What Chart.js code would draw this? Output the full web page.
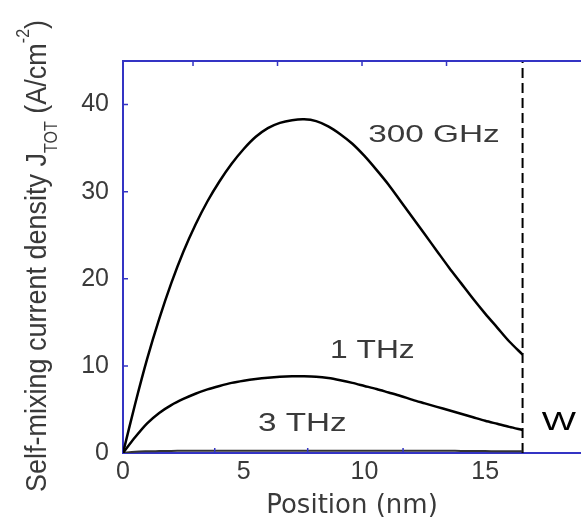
<!DOCTYPE html>
<html>
<head>
<meta charset="utf-8">
<script src="https://cdn.jsdelivr.net/npm/chart.js@4.4.0/dist/chart.umd.min.js"></script>
<style>
html,body{margin:0;padding:0;background:#fff;overflow:hidden;}
#wrap{width:581px;height:525px;}
</style>
</head>
<body>
<div id="wrap"><canvas id="c" width="581" height="525"></canvas></div>
<script>
// ---- data ----
const positions = [0,0.5,1,1.5,2,2.5,3,3.5,4,4.5,5,5.5,6,6.5,7,7.5,8,8.5,9,9.5,10,10.5,11,11.5,12,12.5,13,13.5,14,14.5,15,15.5,16,16.55];
const j300GHz = [0,5.6,10.8,15.4,19.5,23.1,26.2,28.9,31.2,33.2,34.9,36.3,37.3,37.9,38.2,38.3,38.1,37.5,36.6,35.5,34.1,32.5,30.8,28.9,27.0,25.1,23.2,21.3,19.5,17.7,16.0,14.4,12.8,11.3];
const j1THz = [0,1.8,3.4,4.6,5.5,6.2,6.8,7.3,7.7,8.05,8.3,8.5,8.65,8.75,8.8,8.8,8.75,8.6,8.35,8.05,7.7,7.35,6.95,6.55,6.1,5.7,5.3,4.9,4.5,4.1,3.7,3.35,3.0,2.65];
const j3THz = [0,0.15,0.2,0.22,0.24,0.25,0.25,0.25,0.25,0.25,0.25,0.25,0.25,0.25,0.25,0.25,0.25,0.25,0.25,0.25,0.25,0.25,0.25,0.25,0.25,0.25,0.25,0.25,0.24,0.23,0.22,0.21,0.2,0.2];
const wallPosition = 16.55;
const xTickLabels = [0,5,10,15];
const yTickLabels = [0,10,20,30,40];
const xRange = [0, 18.97];
const yRange = [0, 45];
const seriesLabels = ['300 GHz','1 THz','3 THz'];
const labelPositions = [[12.88,36.7],[10.33,11.95],[7.43,3.56]];
const wallLabel = 'W';
const wallLabelPosition = [18.05,3.68];
const topMinorTicks = [2.9,6.4,9.9,13.4];
const bottomMinorTicks = [3.8,7.65,11.6];
const leftMinorTicks = [10,20,30,40];

const BLUE = '#3434c4';
const TEXT = '#3a3a3a';

function pts(ys){ return positions.map((x,i)=>({x:x,y:ys[i]})); }

const framePlugin = {
  id:'frame',
  afterDatasetsDraw(chart){
    const ctx = chart.ctx, a = chart.chartArea;
    const xs = chart.scales.x, ys = chart.scales.y;
    ctx.save();
    ctx.strokeStyle = BLUE; ctx.lineWidth = 2;
    ctx.beginPath(); ctx.moveTo(a.left, a.top); ctx.lineTo(a.right, a.top); ctx.stroke();
    ctx.lineWidth = 1.5;
    ctx.beginPath();
    leftMinorTicks.forEach(v=>{ const p = ys.getPixelForValue(v); ctx.moveTo(a.left, p); ctx.lineTo(a.left+5, p); });
    topMinorTicks.forEach(v=>{ const p = xs.getPixelForValue(v); ctx.moveTo(p, a.top); ctx.lineTo(p, a.top+5); });
    bottomMinorTicks.forEach(v=>{ const p = xs.getPixelForValue(v); ctx.moveTo(p, a.bottom); ctx.lineTo(p, a.bottom-5); });
    ctx.stroke();

    // curve labels
    const scalesX = [1.39,1.27,1.33];
    seriesLabels.forEach((t,i)=>{
      const size = i===0 ? 24 : 25;
      ctx.font = size + 'px "Liberation Sans", Arial, sans-serif';
      ctx.fillStyle = TEXT; ctx.textAlign = 'center'; ctx.textBaseline = 'alphabetic';
      const px = xs.getPixelForValue(labelPositions[i][0]);
      const py = ys.getPixelForValue(labelPositions[i][1]) + 0.358*size;
      ctx.save(); ctx.translate(px, py); ctx.scale(scalesX[i], 1); ctx.fillText(t, 0, 0); ctx.restore();
    });
    ctx.font = '25px "Liberation Sans", Arial, sans-serif';
    ctx.fillStyle = '#000';
    const wx = xs.getPixelForValue(wallLabelPosition[0]);
    const wy = ys.getPixelForValue(wallLabelPosition[1]) + 0.358*25;
    ctx.save(); ctx.translate(wx, wy); ctx.scale(1.45, 1); ctx.fillText(wallLabel, 0, 0); ctx.restore();

    // y-axis title with subscript / superscript
    const parts = [
      {t:'Self-mixing current density J', s:27, off:0},
      {t:'TOT', s:16, off:10},
      {t:' (A/cm', s:27, off:0},
      {t:'-2', s:16, off:-15},
      {t:')', s:27, off:0}
    ];
    let total = 0;
    parts.forEach(p=>{ ctx.font = p.s + 'px "Liberation Sans", Arial, sans-serif'; p.w = ctx.measureText(p.t).width; total += p.w; });
    ctx.save();
    ctx.translate(46, 256 + total/2);
    ctx.rotate(-Math.PI/2);
    ctx.scale(1, 1.12);
    ctx.fillStyle = TEXT; ctx.textAlign = 'left'; ctx.textBaseline = 'alphabetic';
    let cx = 0;
    parts.forEach(p=>{ ctx.font = p.s + 'px "Liberation Sans", Arial, sans-serif'; ctx.fillText(p.t, cx, p.off); cx += p.w; });
    ctx.restore();
    ctx.restore();
  }
};

new Chart(document.getElementById('c'), {
  type:'line',
  data:{
    datasets:[
      {label:seriesLabels[0], data:pts(j300GHz), borderColor:'#000', borderWidth:2.5, pointRadius:0, tension:0.3, fill:false},
      {label:seriesLabels[1], data:pts(j1THz), borderColor:'#000', borderWidth:2.5, pointRadius:0, tension:0.3, fill:false},
      {label:seriesLabels[2], data:pts(j3THz), borderColor:'#333', borderWidth:2, pointRadius:0, tension:0.3, fill:false},
      {label:'W', data:[{x:wallPosition,y:yRange[0]},{x:wallPosition,y:yRange[1]}], borderColor:'#000', borderWidth:2, borderDash:[10,5], pointRadius:0, fill:false}
    ]
  },
  options:{
    responsive:false, animation:false,
    layout:{padding:{top:61,right:0,bottom:0,left:0}},
    plugins:{legend:{display:false}, tooltip:{enabled:false}},
    scales:{
      x:{
        type:'linear', min:xRange[0], max:xRange[1],
        afterBuildTicks(s){ s.ticks = xTickLabels.map(v=>({value:v})); },
        afterFit(s){ s.height = 72; },
        grid:{display:true, drawOnChartArea:false, drawTicks:false},
        border:{display:true, color:BLUE, width:2},
        ticks:{padding:4, color:TEXT, font:{family:'"Liberation Sans", Arial, sans-serif', size:25}, maxRotation:0},
        title:{display:true, text:'Position (nm)', color:TEXT, font:{family:'"DejaVu Sans", sans-serif', size:26}, padding:{top:0,bottom:3}}
      },
      y:{
        type:'linear', min:yRange[0], max:yRange[1],
        afterBuildTicks(s){ s.ticks = yTickLabels.map(v=>({value:v})); },
        afterFit(s){ s.width = 123; },
        grid:{display:true, drawOnChartArea:false, drawTicks:false},
        border:{display:true, color:BLUE, width:2},
        ticks:{padding:14, color:TEXT, font:{family:'"Liberation Sans", Arial, sans-serif', size:25}}
      }
    }
  },
  plugins:[framePlugin]
});
</script>
</body>
</html>
